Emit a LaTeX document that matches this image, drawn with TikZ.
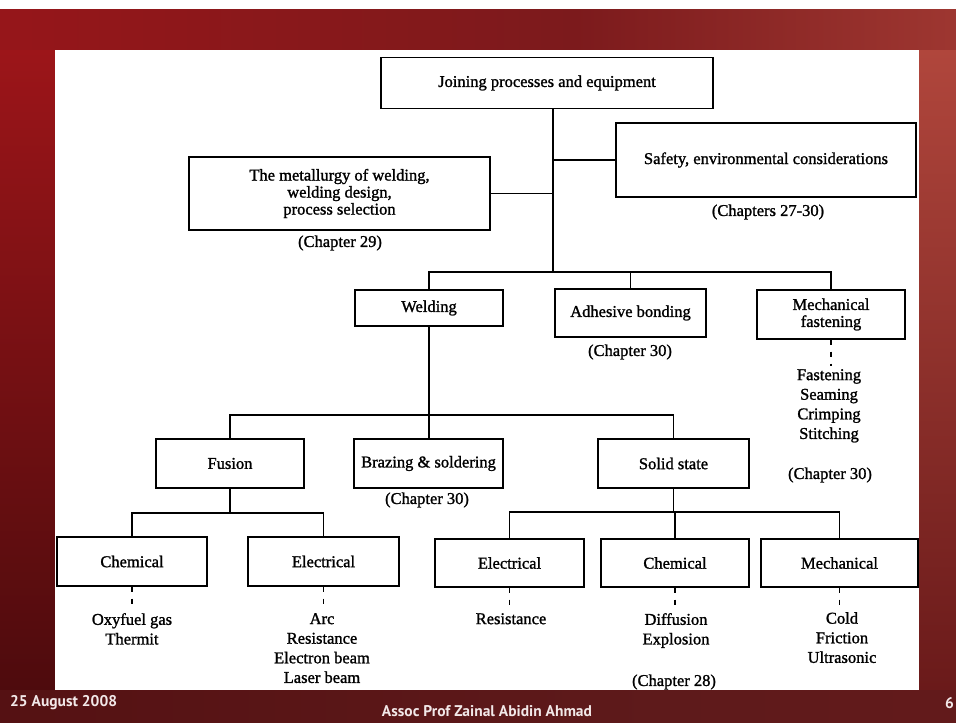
\documentclass[tikz,border=0pt]{standalone}
\usepackage{fontspec}
\setmainfont{Liberation Serif}
\newfontfamily\bookfont{Liberation Serif}[FakeBold=1.3]
\newfontfamily\slidefont{PT Sans}
\usetikzlibrary{positioning}

\definecolor{slideA}{HTML}{6E0E11}
\definecolor{slideB}{HTML}{9C1519}
\definecolor{slideC}{HTML}{7C1A1C}
\definecolor{slideD}{HTML}{B0463C}
\definecolor{slideE}{HTML}{6A1A1A}
\definecolor{slideLow}{HTML}{4E0B0D}
\definecolor{slideMid}{HTML}{5E1A1B}
\definecolor{foottext}{HTML}{F2E8E8}
\pgfdeclarehorizontalshading{topband}{100bp}{color(0bp)=(slideA); color(18bp)=(slideB); color(55bp)=(slideC); color(86bp)=(slideD); color(100bp)=(slideE)}
\pgfdeclarehorizontalshading{lowband}{100bp}{color(0bp)=(slideLow); color(60bp)=(slideMid); color(100bp)=(slideE)}

\begin{document}
\begin{tikzpicture}[x=1pt,y=-1pt,
  box/.style={
    draw,
    line width=1.25pt,
    align=center,
    inner sep=0pt,
    font=\bookfont\fontsize{16.5}{17}\selectfont
  },
  note/.style={
    align=center,
    inner sep=0pt,
    font=\bookfont\fontsize{16.5}{19.6}\selectfont
  },
  link/.style={line width=1.25pt},
  dashlink/.style={line width=1.25pt, dash pattern=on 5pt off 7pt, shorten >=3pt},
  foot/.style={
    text=foottext,
    inner sep=0pt,
    font=\slidefont\bfseries\fontsize{15.5}{17}\selectfont
  }]
  % slide background
  \useasboundingbox (0,0) rectangle (956,723);
  \fill[white] (0,0) rectangle (956,9);
  \shade[shading=topband] (0,9) rectangle (956,50);
  \shade[top color=slideB, bottom color=slideLow] (0,50) rectangle (55,690);
  \shade[top color=slideD, bottom color=slideE] (919,50) rectangle (956,690);
  \shade[shading=lowband] (0,690) rectangle (956,723);
  \fill[white] (55,50) rectangle (919,690);

  % top level
  \node[box, minimum width=332pt, minimum height=51pt] (joining) at (547,83)
    {Joining processes and equipment};
  \node[box, minimum width=301pt, minimum height=73pt] (metal) at (339.5,193.5)
    {The metallurgy of welding,\\welding design,\\process selection};
  \node[note] (chap29) at (340,243) {(Chapter 29)};
  \node[box, minimum width=300pt, minimum height=74pt] (safety) at (766,160)
    {Safety, environmental considerations};
  \node[note] (chap2730) at (768,212) {(Chapters 27-30)};

  % second level
  \node[box, minimum width=148pt, minimum height=36pt] (welding) at (429,308) {Welding};
  \node[box, minimum width=151pt, minimum height=48pt] (adhesive) at (630.5,313) {Adhesive bonding};
  \node[note] (chap30a) at (630,352) {(Chapter 30)};
  \node[box, minimum width=148pt, minimum height=49pt] (mechfast) at (831,314.5)
    {Mechanical\\fastening};
  \node[note, anchor=north] (fastlist) at (829,369)
    {Fastening\\Seaming\\Crimping\\Stitching};
  \node[note] (chap30c) at (830,475) {(Chapter 30)};

  % welding branches
  \node[box, minimum width=148pt, minimum height=49pt] (fusion) at (230,463.5) {Fusion};
  \node[box, minimum width=149pt, minimum height=49pt] (brazing) at (428.5,463.5) {Brazing \& soldering};
  \node[note] (chap30b) at (427,500) {(Chapter 30)};
  \node[box, minimum width=151pt, minimum height=49pt] (solid) at (673.5,463.5) {Solid state};

  % bottom level
  \node[box, minimum width=150pt, minimum height=49pt] (chemA) at (132,561.5) {Chemical};
  \node[box, minimum width=151pt, minimum height=49pt] (elecA) at (323.5,561.5) {Electrical};
  \node[box, minimum width=149pt, minimum height=48pt] (elecB) at (509.5,563) {Electrical};
  \node[box, minimum width=148pt, minimum height=48pt] (chemB) at (675,563) {Chemical};
  \node[box, minimum width=157pt, minimum height=48pt] (mechB) at (839.5,563) {Mechanical};

  \node[note, anchor=north] (oxylist) at (132,613) {Oxyfuel gas\\Thermit};
  \node[note, anchor=north] (arclist) at (322,613) {Arc\\Resistance\\Electron beam\\Laser beam};
  \node[note, anchor=north] (reslist) at (511,613) {Resistance};
  \node[note, anchor=north] (difflist) at (676,613) {Diffusion\\Explosion};
  \node[note] (chap28) at (674,682) {(Chapter 28)};
  \node[note, anchor=north] (coldlist) at (842,612) {Cold\\Friction\\Ultrasonic};

  % connectors
  \coordinate (bus1) at (553,272);
  \coordinate (bus2) at (429,415);
  \coordinate (bus3) at (230,513);
  \coordinate (bus4) at (673.5,512);

  \draw[link] (joining.south -| bus1) -- (bus1);
  \draw[link] (metal.east) -- (metal.east -| bus1);
  \draw[link] (safety.west) -- (safety.west -| bus1);
  \draw[link] (welding.north) |- (bus1) -| (mechfast.north);
  \draw[link] (adhesive.north) -- (adhesive.north |- bus1);

  \draw[link] (welding.south) -- (welding.south |- brazing.north);
  \draw[link] (fusion.north) |- (bus2) -| (solid.north);

  \draw[link] (fusion.south) -- (bus3);
  \draw[link] (chemA.north) |- (bus3) -| (elecA.north);
  \draw[link] (solid.south) -- (bus4);
  \draw[link] (elecB.north) |- (bus4) -| (mechB.north);
  \draw[link] (chemB.north) -- (chemB.north |- bus4);

  \draw[dashlink] (mechfast.south) -- (mechfast.south |- fastlist.north);
  \draw[dashlink] (chemA.south) -- (chemA.south |- oxylist.north);
  \draw[dashlink] (elecA.south) -- (elecA.south |- arclist.north);
  \draw[dashlink] (elecB.south) -- (elecB.south |- reslist.north);
  \draw[dashlink] (chemB.south) -- (chemB.south |- difflist.north);
  \draw[dashlink] (mechB.south) -- (mechB.south |- coldlist.north);

  % footer
  \node[foot, anchor=west] (date) at (10,703) {25 August 2008};
  \node[foot] (author) at (487,711) {Assoc Prof Zainal Abidin Ahmad};
  \node[foot, anchor=east] (page) at (954,703) {6};
\end{tikzpicture}
\end{document}
